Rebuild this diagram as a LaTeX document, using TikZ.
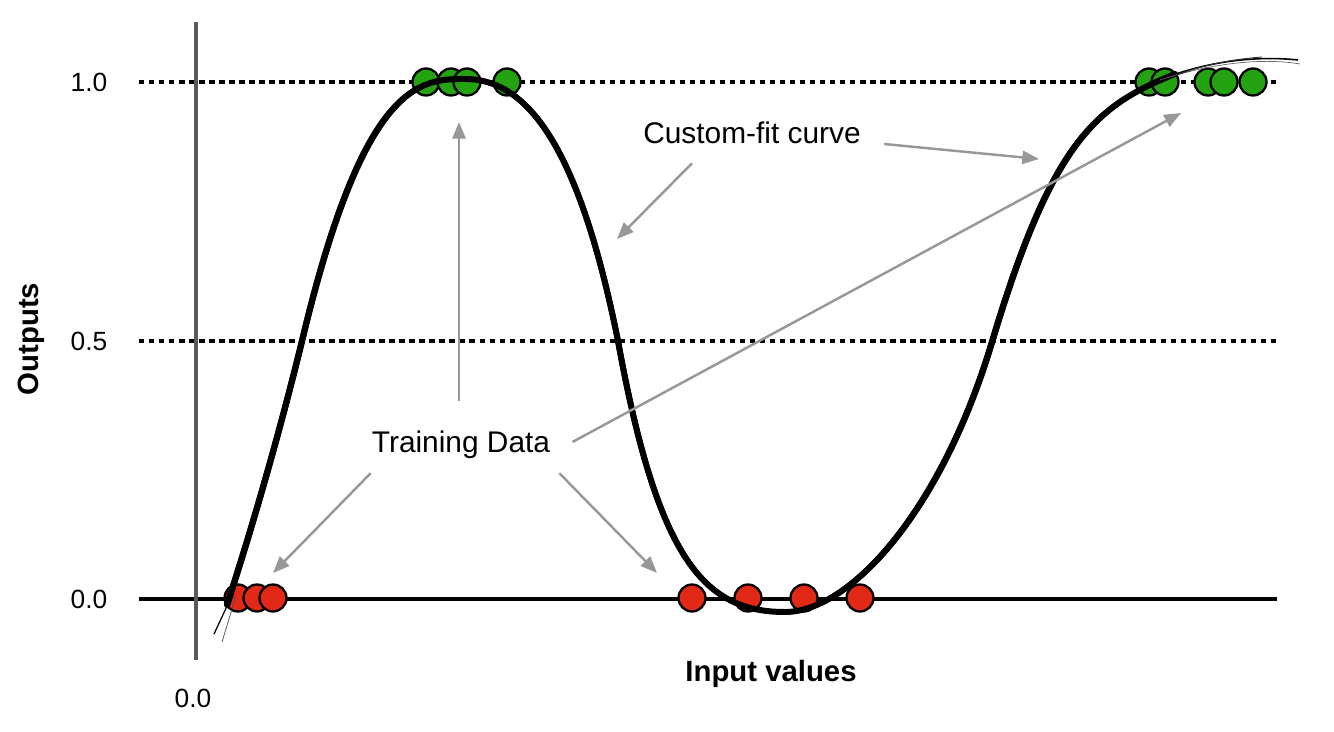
\documentclass[tikz,border=0pt]{standalone}
\usepackage{fontspec}
\setmainfont{Liberation Sans}
\usetikzlibrary{arrows.meta,calc}

\definecolor{dotgreen}{RGB}{36,162,18}
\definecolor{dotred}{RGB}{226,40,22}
\definecolor{axisgray}{RGB}{90,90,90}
\definecolor{pointergray}{RGB}{152,152,152}

\begin{document}
\begin{tikzpicture}[x=0.02cm,y=-0.02cm,
  tick/.style={font=\fontsize{15}{18}\selectfont},
  axisname/.style={font=\fontsize{16.7}{20}\selectfont\bfseries},
  note/.style={font=\fontsize{17}{20}\selectfont,inner sep=0pt},
  pointer/.style={draw=pointergray,line width=1.4pt,-{Triangle[length=9.5pt,width=7.5pt]}},
  greendot/.style={circle,draw=black,line width=1.3pt,fill=dotgreen,minimum size=0.54cm,inner sep=0pt},
  reddot/.style={circle,draw=black,line width=1.3pt,fill=dotred,minimum size=0.54cm,inner sep=0pt},
  guide/.style={line width=1.9pt,dash pattern=on 3.1pt off 2.6pt}]
\useasboundingbox (0,0) rectangle (1334,732);

% grid lines and axes
\draw[guide] (139,82) -- (1277,82);
\draw[guide] (139,341) -- (1277,341);
\draw[line width=2pt] (139,599) -- (1277,599);
\draw[axisgray,line width=1.8pt] (196,22) -- (196,660);

\node[tick] (t1) at (89,82) {1.0};
\node[tick] (t5) at (89,341) {0.5};
\node[tick] (t0) at (89,599) {0.0};
\node[tick] (x0) at (193,698) {0.0};
\node[axisname,rotate=90] (ylab) at (31,339) {Outputs};
\node[axisname] (xlab) at (771,674) {Input values};

% training data
\foreach \x [count=\i] in {426,451,467,507,1149,1165,1208,1224,1253}
  \node[greendot] (g\i) at (\x,82) {};
\foreach \x [count=\i] in {238,257,273,692,748,804,860}
  \node[reddot] (r\i) at (\x,598) {};

% the fitted curve, drawn a few times over for the sketch look
\foreach \dx/\dy/\lw in {0/0/3.4, 1.5/-0.7/1.4, -1.5/0.7/1.4, 2.5/1.2/0.5, -2.5/-1.2/0.5}
  \draw[line width=\lw pt,shift={(\dx,\dy)},line cap=round]
    (227,605) .. controls (253,525) and (280,431) .. (302,341)
    .. controls (364,81) and (420,79) .. (465,79)
    .. controls (525,79) and (578,141) .. (618,341)
    .. controls (658,561) and (705,612) .. (785,612)
    .. controls (850,612) and (941,512) .. (992,342)
    .. controls (1052,142) and (1095,106) .. (1175,74);
\draw[line width=0.7pt] (228,604) -- (214,634);
\draw[line width=0.4pt,black!70] (236,596) -- (222,642);
\draw[line width=0.9pt] (1170,76) .. controls (1215,60) and (1260,56) .. (1298,60);
\draw[line width=0.4pt,black!60] (1160,80) .. controls (1215,62) and (1265,58) .. (1300,64);
\draw[line width=0.5pt,black!80] (1172,77) .. controls (1200,66) and (1225,60) .. (1262,57);

% labels and pointers
\node[note] (fit) at (752,133) {Custom-fit curve};
\node[note] (train) at (461,445) {Training Data};

\coordinate (fittipA) at (617,239);
\coordinate (fittipB) at (1039,159);
\coordinate (traintipUp) at (459,122);
\coordinate (traintipL) at (273,573);
\coordinate (traintipR) at (657,573);
\coordinate (traintipFar) at (1181,113);

\draw[pointer] ($(fit.south)+(-60,19)$) -- (fittipA);
\draw[pointer] ($(fit.east)+(23,11)$) -- (fittipB);
\draw[pointer] ($(train.north)+(-2,-30)$) -- (traintipUp);
\draw[pointer] ($(train.south west)+(-1,14)$) -- (traintipL);
\draw[pointer] ($(train.south east)+(9,14)$) -- (traintipR);
\draw[pointer] ($(train.east)+(22,-3)$) -- (traintipFar);
\end{tikzpicture}
\end{document}
